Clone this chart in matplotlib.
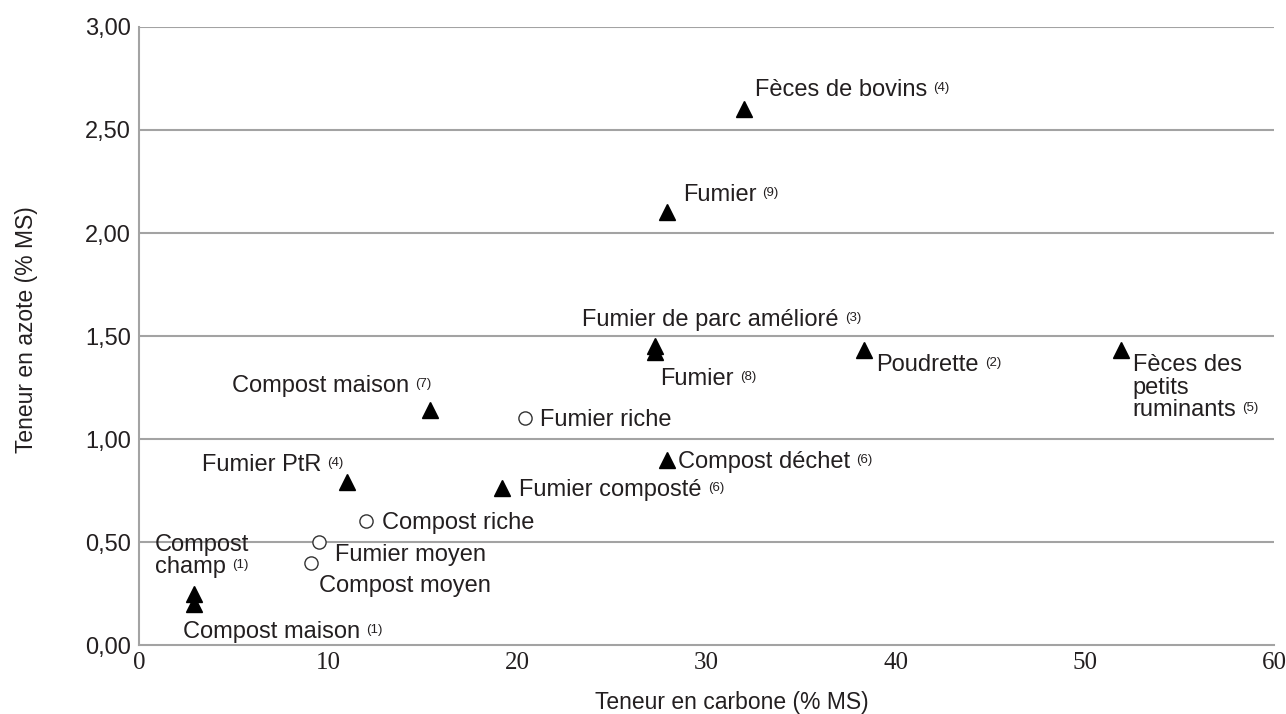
import matplotlib

matplotlib.use("Agg")
import matplotlib.pyplot as plt

plt.rcParams["font.family"] = ["Liberation Sans", "DejaVu Sans"]

TEXT = "#231f20"
GRID = "#a3a3a3"
LABEL_SIZE = 17
SUP_SIZE = 9.5

# --- data ------------------------------------------------------------------
tri_names = ["Fèces de bovins", "Fumier", "Fumier de parc amélioré", "Fumier",
             "Poudrette", "Fèces des\npetits\nruminants", "Compost maison",
             "Compost déchet", "Fumier PtR", "Fumier composté",
             "Compost\nchamp", "Compost maison"]
tri_refs = ["(4)", "(9)", "(3)", "(8)", "(2)", "(5)", "(7)", "(6)", "(4)",
            "(6)", "(1)", "(1)"]
tri_carbon = [32.0, 27.9, 27.3, 27.3, 38.3, 51.9, 15.4, 27.9, 11.0, 19.2, 2.9, 2.9]
tri_nitrogen = [2.60, 2.10, 1.45, 1.42, 1.43, 1.43, 1.14, 0.90, 0.79, 0.76, 0.25, 0.20]

circ_names = ["Fumier riche", "Compost riche", "Fumier moyen", "Compost moyen"]
circ_carbon = [20.4, 12.0, 9.5, 9.1]
circ_nitrogen = [1.10, 0.60, 0.50, 0.40]

x_ticks = [0, 10, 20, 30, 40, 50, 60]
y_ticks = [0.0, 0.5, 1.0, 1.5, 2.0, 2.5, 3.0]
y_tick_labels = ["0,00", "0,50", "1,00", "1,50", "2,00", "2,50", "3,00"]

# label placement: pixel offset (left edge, centre of first line) from marker
tri_label_pos = [(11, 21), (16, 19), (-73, 28), (5, -25), (13, -13),
                 (12, -13), (-198, 26), (11, 0), (-145, 19), (17, 0),
                 (-39, 51), (-11, -26)]
circ_label_pos = [(15, 0), (16, 0), (16, -11), (8, -21)]
LINE_PITCH = 22.5
V_SHIFT = -2  # nudge: matplotlib's "center" sits a little high vs the original


def add_label(ax, x, y, text, ref, dx, dy):
    """Left-aligned (possibly multi-line) label with a small raised reference."""
    last = None
    for i, line in enumerate(text.split("\n")):
        last = ax.annotate(line, xy=(x, y),
                           xytext=(dx, dy + V_SHIFT - i * LINE_PITCH),
                           textcoords="offset pixels", ha="left", va="center",
                           fontsize=LABEL_SIZE, color=TEXT)
    if ref:
        ax.annotate(ref, xy=(1, 1), xycoords=last, xytext=(6, -3),
                    textcoords="offset pixels", ha="left", va="top",
                    fontsize=SUP_SIZE, color=TEXT)


fig = plt.figure(figsize=(12.86, 7.14), dpi=100)
ax = fig.add_axes([0.1081, 0.0966, 0.8826, 0.8656])

ax.set_xlim(0, 60)
ax.set_ylim(0, 3.0)

for y in y_ticks[1:]:
    ax.axhline(y, color=GRID, linewidth=1.5, zorder=0)

ax.plot(tri_carbon, tri_nitrogen, linestyle="none", marker="^",
        markersize=11.5, color="black", zorder=3)
ax.plot(circ_carbon, circ_nitrogen, linestyle="none", marker="o",
        markersize=9.5, markerfacecolor="white", markeredgecolor="#333333",
        markeredgewidth=1.0, zorder=3)

for name, ref, cx, ny, (dx, dy) in zip(tri_names, tri_refs, tri_carbon,
                                       tri_nitrogen, tri_label_pos):
    add_label(ax, cx, ny, name, ref, dx, dy)

for name, cx, ny, (dx, dy) in zip(circ_names, circ_carbon, circ_nitrogen,
                                  circ_label_pos):
    add_label(ax, cx, ny, name, None, dx, dy)

for side in ["top", "right"]:
    ax.spines[side].set_visible(False)
for side in ["left", "bottom"]:
    ax.spines[side].set_color(GRID)
    ax.spines[side].set_linewidth(1.5)

ax.set_xticks(x_ticks)
ax.set_xticklabels([str(t) for t in x_ticks], family="Liberation Serif",
                   fontsize=18, color=TEXT)
ax.set_yticks(y_ticks)
ax.set_yticklabels(y_tick_labels, fontsize=17, color=TEXT)
ax.tick_params(axis="both", length=0)
ax.tick_params(axis="x", pad=5)
ax.tick_params(axis="y", pad=6)

fig.text(732 / 1286, 1 - 702 / 714, "Teneur en carbone (% MS)",
         ha="center", va="center", fontsize=16.5, color=TEXT)
fig.text(27 / 1286, 1 - 330 / 714, "Teneur en azote (% MS)", rotation=90,
         ha="center", va="center", fontsize=16.5, color=TEXT)

fig.savefig("out.png", dpi=100)
